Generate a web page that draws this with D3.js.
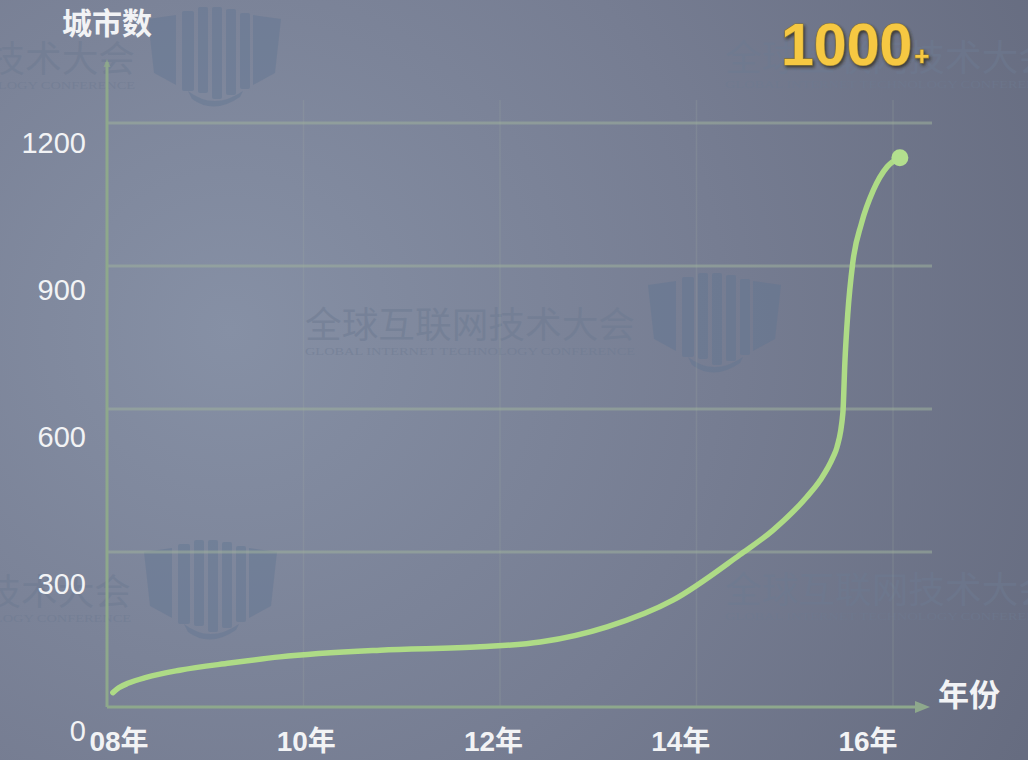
<!DOCTYPE html>
<html>
<head>
<meta charset="utf-8">
<script src="https://cdn.jsdelivr.net/npm/d3@7"></script>
<style>
  html, body { margin: 0; padding: 0; background: #737a8e; }
  svg { display: block; }
</style>
</head>
<body>
<svg id="chart" width="1028" height="760"></svg>
<script>
// Growth of the number of cities served, year by year
const years  = [2008.06, 2008.12, 2008.22, 2008.40, 2008.74, 2009.25, 2009.76, 2010.78, 2011.80, 2012.41,
                2013.09, 2013.76, 2014.44, 2014.78, 2015.12, 2015.26, 2015.39, 2015.43, 2015.49, 2015.51,
                2015.54, 2015.59, 2015.68, 2015.80, 2015.94, 2016.07];
const cities = [5, 15, 25, 37, 52, 67, 80, 94, 101, 111,
                143, 199, 294, 346, 415, 451, 499, 520, 592, 697,
                801, 906, 990, 1059, 1108, 1127];

const yTicks = [0, 300, 600, 900, 1200];
const xTicks = [2008, 2010, 2012, 2014, 2016];
const xTickLabels = ["08年", "10年", "12年", "14年", "16年"];

const yTitle = "城市数";
const xTitle = "年份";
const headline = "1000";
const headlineSuffix = "+";

const wmTitle = "全球互联网技术大会";
const wmSub = "GLOBAL INTERNET TECHNOLOGY CONFERENCE";

const FONT = "'Liberation Sans', Arial, 'Noto Sans CJK SC', sans-serif";

const svg = d3.select("#chart");
const W = 1028, H = 760;

// scales for marks
const x = d3.scaleLinear().domain([2008, 2016]).range([107, 893]);
const y = d3.scaleLinear().domain([0, 1200]).range([695, 123]);
// scales for the tick label positions
const xLab = d3.scaleLinear().domain([2008, 2016]).range([119, 868]);
const yLab = d3.scaleLinear().domain([0, 1200]).range([731, 143]);

const axisLeft = 107, axisBottom = 707, axisTop = 62, axisRight = 930;

const defs = svg.append("defs");
const bg = defs.append("radialGradient").attr("id", "bg")
  .attr("gradientUnits", "userSpaceOnUse")
  .attr("cx", 230).attr("cy", 330).attr("r", 900);
bg.append("stop").attr("offset", 0).attr("stop-color", "#8690a5");
bg.append("stop").attr("offset", 0.55).attr("stop-color", "#767d92");
bg.append("stop").attr("offset", 1).attr("stop-color", "#666c80");

const shadow = defs.append("filter").attr("id", "shadow")
  .attr("x", "-10%").attr("y", "-10%").attr("width", "130%").attr("height", "130%");
shadow.append("feDropShadow").attr("dx", 1.5).attr("dy", 2).attr("stdDeviation", 1.5)
  .attr("flood-color", "#2e2a1c").attr("flood-opacity", 0.75);

svg.append("rect").attr("width", W).attr("height", H).attr("fill", "url(#bg)");

// background watermark tiles
const tiles = [[305, 325], [-195, 59], [-199, 592], [725, 58], [725, 590]];
const wm = svg.append("g").attr("class", "watermark");
tiles.forEach(([tx, ty]) => {
  const g = wm.append("g").attr("transform", `translate(${tx},${ty})`);
  g.append("text").text(wmTitle)
    .attr("x", 0).attr("y", 13)
    .attr("font-family", "'Noto Sans CJK SC', sans-serif")
    .attr("font-size", 36)
    .attr("textLength", 330).attr("lengthAdjust", "spacingAndGlyphs")
    .attr("fill", "#6d7a91").attr("fill-opacity", 0.55);
  g.append("text").text(wmSub)
    .attr("x", 0).attr("y", 30)
    .attr("font-family", "'Liberation Serif', serif")
    .attr("font-size", 11)
    .attr("textLength", 330).attr("lengthAdjust", "spacingAndGlyphs")
    .attr("fill", "#6d7a91").attr("fill-opacity", 0.5);
  const s = g.append("g").attr("transform", "translate(343,-52)")
    .attr("fill", "#5f7591").attr("fill-opacity", 0.42);
  s.append("path").attr("d", "M0,12 L28,8 L28,78 L6,66 Z");
  s.append("path").attr("d", "M105,8 L133,12 L127,66 L105,78 Z");
  [[34, 4, 12, 80], [50, 0, 10, 86], [64, 0, 10, 92], [78, 2, 10, 86], [92, 6, 10, 76]]
    .forEach(([bx, by, bw, bh]) => s.append("rect")
      .attr("x", bx).attr("y", by).attr("width", bw).attr("height", bh).attr("rx", 2));
  s.append("path").attr("d", "M40,84 Q66,104 95,84 L92,90 Q66,108 44,92 Z");
});

// grid
const grid = svg.append("g").attr("class", "grid");
grid.selectAll("line.v").data(xTicks.slice(1)).join("line").attr("class", "v")
  .attr("x1", d => x(d)).attr("x2", d => x(d))
  .attr("y1", 100).attr("y2", axisBottom)
  .attr("stroke", "#a3b0a4").attr("stroke-opacity", 0.2).attr("stroke-width", 1.5);
grid.selectAll("line.h").data(yTicks.slice(1)).join("line").attr("class", "h")
  .attr("x1", axisLeft).attr("x2", 932)
  .attr("y1", d => y(d)).attr("y2", d => y(d))
  .attr("stroke", "#9fb09d").attr("stroke-opacity", 0.55).attr("stroke-width", 3);

// axes
const axisColor = "#8ea88c";
svg.append("line")
  .attr("x1", axisLeft).attr("x2", axisLeft).attr("y1", axisTop).attr("y2", axisBottom)
  .attr("stroke", axisColor).attr("stroke-width", 3);
svg.append("line")
  .attr("x1", axisLeft).attr("x2", axisRight - 12).attr("y1", axisBottom).attr("y2", axisBottom)
  .attr("stroke", axisColor).attr("stroke-width", 3);
svg.append("path")
  .attr("d", `M${axisRight},${axisBottom} L${axisRight - 15},${axisBottom - 6} L${axisRight - 15},${axisBottom + 6} Z`)
  .attr("fill", axisColor);
svg.append("path")
  .attr("d", `M${axisLeft},${axisTop - 3} L${axisLeft - 3.5},${axisTop + 5} L${axisLeft + 3.5},${axisTop + 5} Z`)
  .attr("fill", axisColor).attr("fill-opacity", 0.7);

// tick labels
svg.append("g").selectAll("text").data(yTicks).join("text")
  .attr("x", 86).attr("y", d => yLab(d))
  .attr("text-anchor", "end").attr("dominant-baseline", "central")
  .attr("font-family", FONT).attr("font-size", 29)
  .attr("fill", "#f2f3f5")
  .text(d => d);

svg.append("g").selectAll("text").data(xTicks).join("text")
  .attr("x", d => xLab(d)).attr("y", 741)
  .attr("text-anchor", "middle").attr("dominant-baseline", "central")
  .attr("font-family", FONT).attr("font-size", 28).attr("font-weight", "bold")
  .attr("fill", "#f2f3f5")
  .text((d, i) => xTickLabels[i]);

// axis titles
svg.append("text").text(yTitle)
  .attr("x", axisLeft).attr("y", 23)
  .attr("text-anchor", "middle").attr("dominant-baseline", "central")
  .attr("font-family", FONT).attr("font-size", 30).attr("font-weight", "bold")
  .attr("fill", "#f2f3f5");
svg.append("text").text(xTitle)
  .attr("x", 938).attr("y", 695)
  .attr("dominant-baseline", "central")
  .attr("font-family", FONT).attr("font-size", 31).attr("font-weight", "bold")
  .attr("fill", "#f2f3f5");

// growth curve
const pts = years.map((yr, i) => [yr, cities[i]]);
const line = d3.line()
  .x(d => x(d[0])).y(d => y(d[1]))
  .curve(d3.curveMonotoneX);
svg.append("path").datum(pts)
  .attr("d", line)
  .attr("fill", "none")
  .attr("stroke", "#aedb86")
  .attr("stroke-width", 5.5)
  .attr("stroke-linecap", "round")
  .attr("stroke-linejoin", "round");

const last = pts[pts.length - 1];
svg.append("circle")
  .attr("cx", x(last[0])).attr("cy", y(last[1])).attr("r", 8.5)
  .attr("fill", "#b3df8e");

// headline figure
const hl = svg.append("text")
  .attr("x", 781).attr("y", 65)
  .attr("font-family", FONT).attr("font-weight", "bold")
  .attr("fill", "#f6c843")
  .attr("stroke", "#8a7532").attr("stroke-width", 1.2).attr("paint-order", "stroke")
  .attr("filter", "url(#shadow)");
hl.append("tspan").attr("font-size", 59).text(headline);
hl.append("tspan").attr("font-size", 26).attr("dx", 2).text(headlineSuffix);
</script>
</body>
</html>
